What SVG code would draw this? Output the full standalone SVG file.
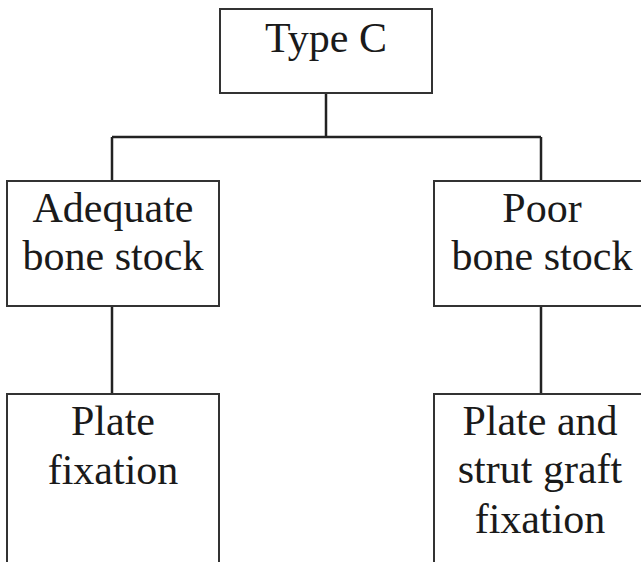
<svg xmlns="http://www.w3.org/2000/svg" width="641" height="562" viewBox="0 0 641 562">
<style>
.box{fill:#fff;stroke:#333;stroke-width:2}
.ln{fill:none;stroke:#222;stroke-width:2.5}
text{font-family:"Liberation Serif","Times New Roman",serif;font-size:42px;fill:#1a1a1a;text-anchor:middle}
</style>
<rect width="641" height="562" fill="#fff"/>
<g id="connectors">
<path class="ln" d="M326,93 V137 M112,137 H541 M112,137 V181 M541,137 V181 M112,306 V394 M541,306 V394"/>
</g>
<g id="typeC">
<rect class="box" x="220" y="9" width="212" height="84"/>
<text x="326" y="52">Type C</text>
</g>
<g id="adequate">
<rect class="box" x="7" y="181" width="212" height="125"/>
<text x="113" y="222">Adequate</text>
<text x="113" y="270">bone stock</text>
</g>
<g id="poor">
<rect class="box" x="434" y="181" width="215" height="125"/>
<text x="542" y="222">Poor</text>
<text x="542" y="270">bone stock</text>
</g>
<g id="plate">
<rect class="box" x="7" y="394" width="212" height="180"/>
<text x="113" y="435">Plate</text>
<text x="113" y="484">fixation</text>
</g>
<g id="strut">
<rect class="box" x="434" y="394" width="215" height="180"/>
<text x="540" y="435">Plate and</text>
<text x="540" y="483">strut graft</text>
<text x="540" y="533">fixation</text>
</g>
</svg>
